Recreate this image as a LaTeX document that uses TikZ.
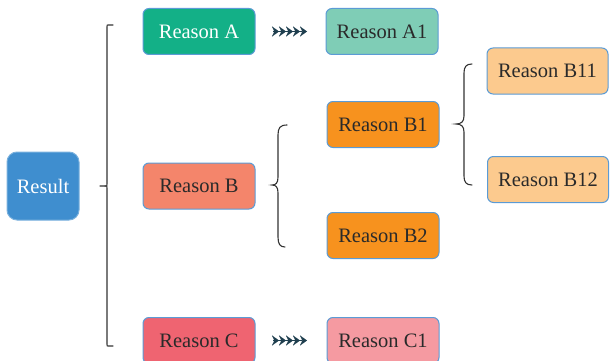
\documentclass[tikz,border=0pt]{standalone}
\usepackage{fontspec}
\setmainfont{Liberation Serif}
\usetikzlibrary{arrows.meta}
\definecolor{cres}{HTML}{3F8ECF}
\definecolor{ca}{HTML}{13B087}
\definecolor{caa}{HTML}{7FCDB6}
\definecolor{cb}{HTML}{F4856B}
\definecolor{cbb}{HTML}{F7921E}
\definecolor{cbbb}{HTML}{FCCA8E}
\definecolor{cc}{HTML}{EF6471}
\definecolor{ccc}{HTML}{F59AA1}
\definecolor{bordc}{HTML}{5B9BD5}
\definecolor{txt}{HTML}{2A2A2A}
\definecolor{chevc}{HTML}{1F3F4F}
\definecolor{brk}{HTML}{333333}
\tikzset{
  box/.style={draw=bordc, line width=1pt, rounded corners=6pt, minimum width=112pt, minimum height=46pt, inner sep=0pt, text=txt, font=\fontsize{20.5}{24}\selectfont},
  chain/.style={draw=chevc, fill=chevc, line width=0.1pt,
   -{Stealth[length=7pt,width=10pt,inset=2.4pt,sep=0pt]Stealth[length=7pt,width=10pt,inset=2.4pt,sep=0pt]Stealth[length=7pt,width=10pt,inset=2.4pt,sep=0pt]Stealth[length=7pt,width=10pt,inset=2.4pt,sep=0pt]Stealth[length=7pt,width=10pt,inset=2.4pt,sep=0pt]}},
  brace/.style={draw=brk, line width=1.1pt, line cap=round}
}
\begin{document}
\begin{tikzpicture}[x=1pt,y=-1pt]
\useasboundingbox (0,0) rectangle (610,361);
% nodes
\node[box, fill=cres, draw=cres!70!white, minimum width=72pt, minimum height=68pt, rounded corners=10pt, text=white] (res) at (43,186) {Result};
\node[box, fill=ca, text=white] (a) at (199,31.5) {Reason A};
\node[box, fill=caa] (a1) at (382,31.5) {Reason A1};
\node[box, fill=cb] (b) at (199,186) {Reason B};
\node[box, fill=cbb] (b1) at (383,124.5) {Reason B1};
\node[box, fill=cbb] (b2) at (383,235.5) {Reason B2};
\node[box, fill=cbbb, minimum width=121pt] (b11) at (547.5,71) {Reason B11};
\node[box, fill=cbbb, minimum width=121pt] (b12) at (548,179.5) {Reason B12};
\node[box, fill=cc] (c) at (199,340.5) {Reason C};
\node[box, fill=ccc] (c1) at (383,340.5) {Reason C1};
% chevron connectors
\draw[chain, shorten <=17.5pt, shorten >=18.5pt] (a) -- (a1);
\draw[chain, shorten <=17.5pt, shorten >=19.5pt] (c) -- (c1);
% main bracket
\coordinate (m1) at (113,25);
\coordinate (m2) at (113,346);
\coordinate (mt) at (100,186);
\draw[brace] (m1) -- (108,25) .. controls (107,25) .. (107,27) -- (107,184) .. controls (107,186) .. (105,186) -- (mt);
\draw[brace] (m2) -- (108,346) .. controls (107,346) .. (107,344) -- (107,188) .. controls (107,186) .. (105,186);
% brace B
\coordinate (bt) at (287,125);
\coordinate (bb) at (285,247);
\coordinate (btip) at (272,185);
\draw[brace] (bt) .. controls (280,125) and (278,128) .. (278,135) -- (278,177) .. controls (278,183) and (276,185) .. (btip)
  .. controls (276,185) and (278,187) .. (278,193) -- (278,237) .. controls (278,244) and (280,247) .. (bb);
% brace B1
\coordinate (ct) at (472,64);
\coordinate (cb1) at (472,185);
\coordinate (ctip) at (456,124);
\draw[brace] (ct) .. controls (466,64) and (464,67) .. (464,73) -- (464,116) .. controls (464,122) and (461,124) .. (ctip)
  .. controls (461,124) and (464,126) .. (464,132) -- (464,176) .. controls (464,182) and (466,185) .. (cb1);
\end{tikzpicture}
\end{document}
